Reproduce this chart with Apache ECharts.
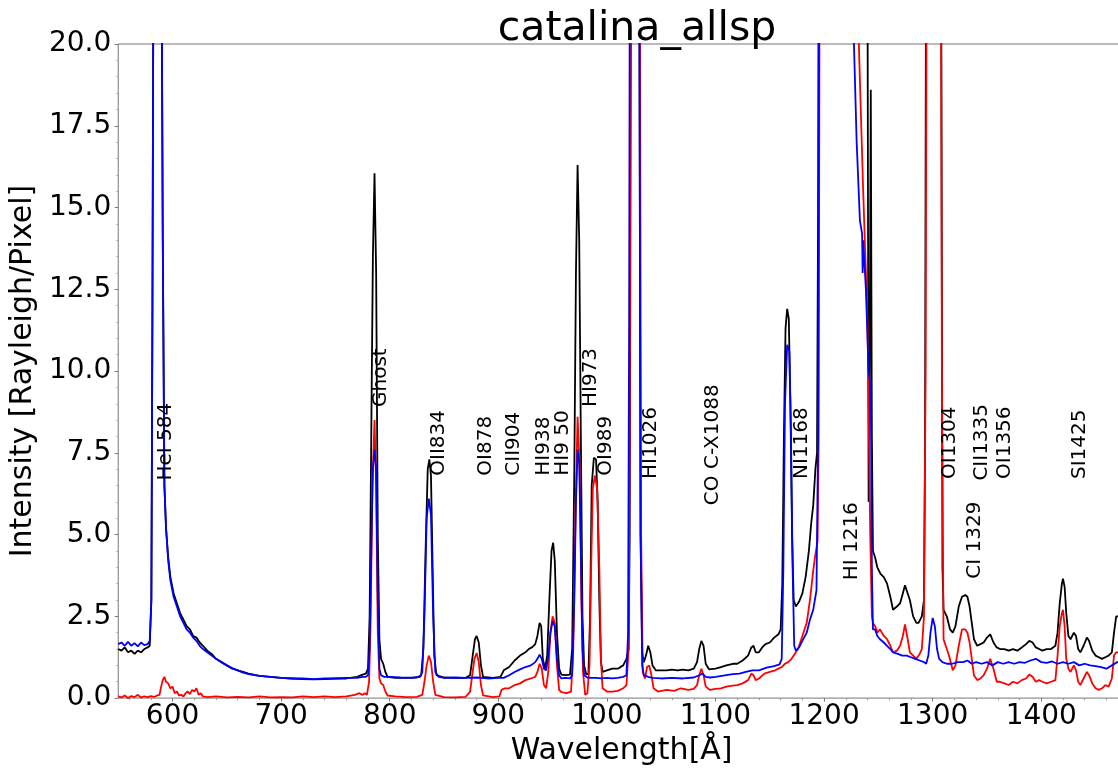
<!DOCTYPE html>
<html>
<head>
<meta charset="utf-8">
<script src="https://cdn.jsdelivr.net/npm/echarts@6/dist/echarts.min.js"></script>
<style>
html, body { margin: 0; padding: 0; background: #fff; overflow: hidden; }
/* the plot area runs past the right edge of the window, as in the original figure */
#chart { width: 1139px; height: 771px; }
</style>
</head>
<body>
<div id="chart"></div>
<script>
// spectra: [wavelength (A), intensity]
var blackSpec = [
    [550,1.50],[553,1.45],[556,1.55],[559,1.40],[562,1.45],[565,1.35],[568,1.45],[571,1.40],[574,1.50],[577,1.55],[579,1.60],
    [580.5,3.0],[581.5,12],[583,30],[586,40],[589,30],[591,14],[592.5,6.5],[594,5.2],[596,4.3],[598,3.7],[601,3.2],[604,2.9],
    [607,2.6],[610,2.4],[613,2.2],[616,2.1],[619,1.9],[622,1.85],[625,1.7],[628,1.6],[632,1.45],[636,1.35],[640,1.2],[645,1.1],
    [650,1.0],[655,0.9],[660,0.85],[665,0.8],[670,0.75],[680,0.68],[690,0.65],[700,0.62],[710,0.6],[720,0.58],[730,0.57],
    [740,0.58],[750,0.6],[760,0.6],[770,0.65],[775,0.72],[778,0.75],[780,0.9],[781.5,2.5],[783,8],[784.5,13.5],[786,16.05],
    [787.5,13],[789,5],[790.5,1.8],[792,1.2],[794,1.05],[796,0.8],[798,0.65],[805,0.62],[815,0.62],[825,0.63],[829,0.7],
    [831,1.5],[833,4.5],[835,7.0],[836.5,7.3],[838,6.8],[839.5,4.0],[841,1.3],[843,0.7],[850,0.63],[860,0.62],[870,0.62],
    [874,0.7],[876,1.2],[878.5,1.8],[880,1.9],[882,1.7],[884,1.0],[886,0.65],[895,0.62],[902,0.65],[905,0.85],[910,0.95],
    [915,1.15],[920,1.3],[925,1.4],[928,1.5],[931,1.55],[934,1.65],[936,1.9],[938,2.3],[939.5,2.2],[941,1.2],[943,0.9],
    [945,1.3],[947,3.0],[949,4.5],[950.5,4.75],[952,4.2],[954,2.0],[956,0.9],[958,0.72],[962,0.7],[966,0.72],[968,1.5],
    [970,7],[971.5,13],[973,16.3],[974.5,14],[976,8],[977.5,2.5],[979,1.0],[981,0.72],[983,0.75],[984.5,2.5],[986,6.5],
    [988,7.35],[990,7.3],[991.5,6],[993,3],[994.5,1.1],[996,0.8],[1000,0.85],[1005,0.9],[1010,0.9],[1015,1.0],[1018,1.2],
    [1020,1.5],[1021,5],[1022,20],[1023,40],[1026,50],[1029,40],[1030,20],[1031,5],[1032.5,1.4],[1034,1.1],[1036,1.3],
    [1038,1.6],[1040,1.4],[1042,1.0],[1045,0.85],[1050,0.85],[1055,0.85],[1060,0.87],[1065,0.85],[1070,0.87],[1075,0.85],
    [1080,0.9],[1083,1.1],[1085,1.5],[1087,1.75],[1089,1.6],[1091,1.05],[1094,0.88],[1100,0.9],[1105,0.95],[1110,1.0],
    [1116,1.05],[1120,1.05],[1125,1.15],[1130,1.3],[1133,1.55],[1135,1.6],[1137,1.4],[1140,1.4],[1143,1.55],[1146,1.65],
    [1150,1.7],[1154,1.85],[1158,1.95],[1160,2.1],[1161.5,3.5],[1163,8],[1164.5,11.3],[1166,11.9],[1167.5,11.6],[1169,9],
    [1170.5,5],[1172,3.0],[1174,2.8],[1177,2.95],[1180,3.2],[1183,3.7],[1186,4.5],[1188,5.3],[1190,5.9],[1192,7.0],
    [1193.5,7.5],[1194.5,15],[1195.5,30],[1200,50],[1216,80],[1230,50],[1236,30],[1238,25],[1240,22],[1241,6],[1242,10],
    [1243,18.6],[1244,8],[1245,4.5],[1247,4.3],[1249,4.0],[1252,3.8],[1255,3.7],[1258,3.5],[1261,3.1],[1263.5,2.7],
    [1267,2.8],[1270,2.9],[1272.5,3.2],[1274.5,3.45],[1277,3.2],[1279,3.0],[1282,2.5],[1285,2.3],[1287,2.3],[1290,2.5],
    [1292,3.0],[1293,8],[1294,25],[1296,45],[1301,60],[1306,45],[1308,20],[1309,4],[1310,2.7],[1313,2.5],[1316,2.1],
    [1318.5,2.0],[1321,2.2],[1324,2.8],[1327,3.1],[1330,3.15],[1332,3.1],[1334,2.8],[1336,2.3],[1338,1.8],[1341,1.6],
    [1344,1.65],[1347,1.7],[1350,1.85],[1353,1.95],[1356,1.7],[1359,1.55],[1362,1.5],[1366,1.5],[1370,1.45],[1374,1.5],
    [1378,1.45],[1382,1.55],[1386,1.65],[1389,1.75],[1392,1.7],[1395,1.55],[1398,1.5],[1401,1.45],[1405,1.5],[1409,1.5],
    [1413,1.6],[1415,2.0],[1417,2.9],[1419,3.5],[1420,3.65],[1421.5,3.4],[1423,2.6],[1425,1.9],[1427,1.8],[1430,2.0],
    [1432,1.9],[1434,1.5],[1436,1.4],[1439,1.6],[1442,1.85],[1444,1.75],[1447,1.45],[1450,1.3],[1453,1.25],[1456,1.2],
    [1459,1.25],[1462,1.3],[1465,1.4],[1467,2.0],[1469,2.5],[1471,2.5],[1475,2.6]
];

var redSpec = [
    [550,0.05],[553,0.02],[556,0.08],[559,0.0],[562,0.06],[565,0.03],[568,0.1],[571,0.02],[574,0.05],[577,0.03],[580,0.06],
    [583,0.04],[586,0.08],[588,0.1],[589.5,0.35],[591,0.55],[592.5,0.65],[594,0.5],[596,0.45],[598,0.3],[600,0.35],[602,0.15],
    [604,0.2],[606,0.08],[608,0.1],[610,0.05],[612,0.15],[614,0.2],[616,0.12],[618,0.25],[620,0.2],[622,0.3],[624,0.1],
    [626,0.15],[628,0.05],[632,0.03],[640,0.05],[650,0.02],[660,0.04],[670,0.02],[680,0.05],[690,0.02],[700,0.03],[710,0.02],
    [720,0.05],[730,0.03],[740,0.05],[750,0.03],[760,0.05],[768,0.1],[772,0.15],[775,0.1],[777,0.15],[779,0.1],[781,0.5],
    [782.5,2.5],[784,6.5],[786,8.5],[787.5,6.5],[789,2.0],[790.5,0.6],[792,0.45],[794,0.4],[796,0.2],[798,0.08],[805,0.05],
    [815,0.03],[825,0.04],[830,0.1],[832,0.5],[834,1.0],[836,1.3],[838,1.1],[840,0.5],[842,0.1],[850,0.03],[860,0.02],
    [870,0.04],[874,0.2],[876,0.7],[878,1.2],[880,1.38],[882,1.1],[884,0.4],[886,0.08],[895,0.03],[901,0.05],[903,0.25],
    [906,0.3],[910,0.3],[915,0.4],[920,0.45],[925,0.55],[930,0.6],[934,0.65],[936,0.8],[938,1.05],[940,0.9],[942,0.4],
    [944,0.3],[946,0.8],[948,2.0],[950,2.5],[952,2.3],[954,1.0],[956,0.25],[958,0.18],[963,0.15],[967,0.2],[969,1.5],
    [971,5.5],[973,8.6],[975,7],[976.5,3],[978,0.8],[980,0.1],[982,0.15],[984,1.0],[985.5,4],[987,6.4],[989,6.8],[991,6.4],
    [993,4],[994.5,1.2],[996,0.3],[1000,0.2],[1005,0.2],[1010,0.22],[1015,0.3],[1018,0.4],[1020,1.5],[1021,8],[1022,25],
    [1023,45],[1026,55],[1029,45],[1030.5,20],[1031.5,5],[1033,0.8],[1035,0.6],[1037,0.95],[1039,1.0],[1041,0.7],[1043,0.3],
    [1047,0.2],[1055,0.25],[1062,0.22],[1068,0.3],[1075,0.25],[1080,0.28],[1083,0.4],[1085,0.7],[1087,0.9],[1089,0.7],
    [1091,0.35],[1095,0.25],[1100,0.28],[1105,0.3],[1110,0.35],[1116,0.38],[1120,0.4],[1125,0.45],[1130,0.55],[1133,0.75],
    [1135,0.7],[1137,0.55],[1140,0.6],[1145,0.75],[1150,0.8],[1155,0.85],[1158,0.9],[1161,0.95],[1164,1.05],[1167,1.1],
    [1170,1.2],[1173,1.35],[1176,1.5],[1180,1.9],[1184,2.3],[1187,3.0],[1190,3.9],[1192,4.4],[1194,4.8],[1195,8],[1196,25],
    [1200,50],[1225,60],[1230,30],[1232,20],[1236,15.5],[1240,11.5],[1242.5,5],[1244,2.5],[1245,2.3],[1247,2.2],[1249,2.0],
    [1251.5,2.1],[1255,1.9],[1258,1.8],[1261,1.6],[1263.5,1.4],[1267,1.45],[1270,1.6],[1272.5,1.9],[1274.5,2.25],[1277,1.8],
    [1279,1.4],[1282,1.3],[1285,1.2],[1288,1.35],[1290,1.5],[1292,2.5],[1293.5,10],[1295,30],[1301,60],[1307,30],[1308.5,10],
    [1310,1.8],[1312,1.6],[1315,1.3],[1318.5,0.85],[1321,1.0],[1324,1.6],[1327,2.1],[1330,2.1],[1332,2.0],[1334,1.7],
    [1336,1.2],[1338,0.7],[1341,0.55],[1344,0.6],[1347,0.7],[1350,0.9],[1353,1.2],[1356,0.9],[1359,0.5],[1362,0.5],
    [1366,0.45],[1370,0.4],[1374,0.5],[1378,0.45],[1382,0.55],[1386,0.6],[1389,0.72],[1392,0.65],[1395,0.5],[1398,0.55],
    [1401,0.5],[1405,0.45],[1409,0.5],[1413,0.55],[1415,1.3],[1417,2.2],[1419,2.6],[1420,2.7],[1421.5,2.2],[1423,1.2],
    [1425,0.9],[1427,0.8],[1430,1.0],[1432,0.85],[1434,0.5],[1436,0.4],[1439,0.6],[1442,0.8],[1444,0.7],[1447,0.45],
    [1450,0.3],[1453,0.25],[1456,0.3],[1459,0.4],[1462,0.35],[1465,0.6],[1467,1.3],[1469,1.4],[1471,1.4],[1475,1.5]
];

var blueSpec = [
    [550,1.65],[553,1.7],[556,1.6],[559,1.72],[562,1.6],[565,1.68],[568,1.58],[571,1.7],[574,1.62],[577,1.65],[579,1.75],
    [580.5,3.0],[581.5,12],[583,30],[586,40],[589,30],[591,14],[592.5,6.5],[594,5.2],[596,4.2],[598,3.6],[601,3.1],[604,2.8],
    [607,2.5],[610,2.3],[613,2.1],[616,2.0],[619,1.85],[622,1.75],[625,1.6],[628,1.5],[632,1.4],[636,1.3],[640,1.2],[645,1.1],
    [650,1.0],[655,0.92],[660,0.85],[665,0.78],[670,0.73],[680,0.68],[690,0.65],[700,0.62],[710,0.6],[720,0.6],[730,0.58],
    [740,0.6],[750,0.6],[760,0.62],[770,0.62],[775,0.65],[778,0.65],[780,0.7],[781.5,1.5],[783,4.5],[784.5,7.0],[786,7.6],
    [787.5,7.0],[789,3.0],[790.5,0.9],[792,0.7],[795,0.65],[800,0.65],[810,0.63],[820,0.62],[828,0.65],[830,0.8],[832,2.5],
    [834,5.5],[836,6.1],[838,5.6],[840,2.5],[842,0.8],[845,0.65],[850,0.62],[860,0.63],[870,0.62],[880,0.63],[890,0.6],
    [900,0.62],[905,0.62],[910,0.7],[915,0.8],[920,0.88],[925,0.95],[930,1.0],[934,1.1],[936,1.2],[938,1.33],[940,1.2],
    [942,0.9],[944,0.85],[946,1.3],[948,2.0],[950,2.35],[952,2.2],[954,1.2],[956,0.7],[958,0.6],[962,0.62],[966,0.6],
    [968,0.7],[970,3.0],[971.5,6.0],[973,7.6],[974.5,7.2],[976,4.5],[977.5,1.5],[979,0.7],[982,0.63],[985,0.62],[990,0.62],
    [995,0.6],[1000,0.62],[1005,0.6],[1010,0.62],[1015,0.65],[1018,0.7],[1019.5,2],[1020.5,12],[1021.5,30],[1023,45],
    [1026,55],[1029,45],[1030,20],[1031,5],[1032.5,1.0],[1034,0.7],[1038,0.65],[1042,0.62],[1050,0.6],[1060,0.62],[1070,0.6],
    [1080,0.63],[1085,0.7],[1088,0.75],[1091,0.65],[1095,0.63],[1100,0.65],[1110,0.7],[1116,0.73],[1122,0.75],[1128,0.8],
    [1134,0.85],[1140,0.85],[1147,0.93],[1154,0.98],[1159,1.03],[1161,1.2],[1162.5,4],[1164,9],[1166,10.8],[1168,10.6],
    [1169.5,8],[1171,4],[1172.5,1.6],[1174,1.45],[1177,1.55],[1180,1.75],[1184,2.0],[1187,2.4],[1190,2.7],[1193,3.3],
    [1194.5,8],[1195.5,25],[1200,50],[1215,80],[1225,30],[1227.5,20],[1230,17],[1233,14.6],[1235,14.2],[1235.5,13.0],
    [1236,14.0],[1238.5,12.5],[1241,10],[1243,9.5],[1244,4],[1245,2.1],[1247,2.1],[1249,1.9],[1251.5,1.8],[1255,1.7],
    [1258,1.6],[1261,1.5],[1263.5,1.4],[1268,1.35],[1272,1.3],[1276,1.3],[1280,1.25],[1284,1.2],[1288,1.15],[1292,1.1],
    [1294,1.05],[1296,1.3],[1298,2.0],[1300,2.45],[1302,2.2],[1304,1.5],[1306,1.2],[1309,1.1],[1313,1.05],[1318,1.05],
    [1323,1.1],[1328,1.1],[1332,1.15],[1336,1.05],[1340,1.1],[1345,1.05],[1350,1.1],[1355,1.0],[1360,1.1],[1365,1.05],
    [1370,1.1],[1375,1.05],[1380,1.1],[1385,1.08],[1390,1.15],[1395,1.2],[1400,1.1],[1405,1.08],[1410,1.12],[1415,1.05],
    [1420,1.1],[1425,1.05],[1430,1.1],[1435,1.0],[1440,1.05],[1445,1.0],[1450,0.98],[1455,0.95],[1460,0.9],[1465,1.0],
    [1470,1.1],[1475,1.1]
];

// emission line annotations
var lineNames = ['HeI 584', 'Ghost', 'OII834', 'OI878', 'CII904', 'HI938', 'HI9 50', 'HI973', 'OI989', 'HI1026',
    'CO C-X1088', 'NI1168', 'HI 1216', 'OI1304', 'CI 1329', 'CII1335', 'OI1356', 'SI1425'];
var lineWave = [585, 782.6, 836, 879, 905, 932.5, 950, 975.7, 989.5, 1031, 1088, 1170.7, 1216.7, 1306.8, 1329.8, 1336, 1357, 1426];
var lineLevel = [6.65, 8.9, 6.8, 6.8, 6.8, 6.8, 6.8, 8.9, 6.8, 6.7, 5.9, 6.7, 3.6, 6.7, 3.65, 6.65, 6.7, 6.7];

var xTickLabels = [600, 700, 800, 900, 1000, 1100, 1200, 1300, 1400];
var xMinorTicks = [560, 580, 620, 640, 660, 680, 720, 740, 760, 780, 820, 840, 860, 880, 920, 940, 960, 980,
    1020, 1040, 1060, 1080, 1120, 1140, 1160, 1180, 1220, 1240, 1260, 1280, 1320, 1340, 1360, 1380, 1420, 1440, 1460, 1480];

var myChart = echarts.init(document.getElementById('chart'));

var fontName = 'DejaVu Sans';
var xMin = 550, xMax = 1490;

var option = {
    animation: false,
    backgroundColor: '#fff',
    title: {
        text: 'catalina_allsp',
        left: 632,
        top: 4,
        textAlign: 'center',
        textStyle: { fontFamily: fontName, fontSize: 41, fontWeight: 'normal', color: '#000' }
    },
    grid: {
        left: 117, top: 44, right: 0, bottom: 65,
        show: true, borderColor: '#777', borderWidth: 1
    },
    xAxis: [{
        type: 'value',
        min: xMin, max: xMax,
        name: 'Wavelength[Å]',
        nameLocation: 'middle',
        nameGap: 34,
        nameTextStyle: { fontFamily: fontName, fontSize: 30, color: '#000', padding: [0, 14, 0, 0] },
        axisLine: { show: false },
        splitLine: { show: false },
        axisTick: { show: true, customValues: xTickLabels, length: 3.5, lineStyle: { color: '#777' } },
        axisLabel: {
            customValues: xTickLabels, fontFamily: fontName, fontSize: 28, color: '#000', margin: 5,
            formatter: function (v) { return String(v); }
        }
    }, {
        type: 'value',
        min: xMin, max: xMax,
        position: 'bottom',
        axisLine: { show: false },
        splitLine: { show: false },
        axisLabel: { show: false },
        axisTick: { show: true, customValues: xMinorTicks, length: 2, lineStyle: { color: '#999' } }
    }],
    yAxis: {
        type: 'value',
        min: 0, max: 20, interval: 2.5,
        name: 'Intensity [Rayleigh/Pixel]',
        nameLocation: 'middle',
        nameGap: 72,
        nameTextStyle: { fontFamily: fontName, fontSize: 30, color: '#000' },
        axisLine: { show: false },
        splitLine: { show: false },
        axisTick: { show: true, length: 3.5, lineStyle: { color: '#777' } },
        minorTick: { show: true, splitNumber: 5, length: 2, lineStyle: { color: '#aaa' } },
        axisLabel: {
            fontFamily: fontName, fontSize: 28, color: '#000', margin: 7,
            formatter: function (v) { return v.toFixed(1); }
        }
    },
    series: [{
        name: 'black', type: 'line', data: blackSpec, showSymbol: false,
        lineStyle: { color: '#000', width: 1.8 }, itemStyle: { color: '#000' }
    }, {
        name: 'red', type: 'line', data: redSpec, showSymbol: false,
        lineStyle: { color: '#ff0000', width: 1.8 }, itemStyle: { color: '#ff0000' }
    }, {
        name: 'blue', type: 'line', data: blueSpec, showSymbol: false,
        lineStyle: { color: '#0000ff', width: 1.8 }, itemStyle: { color: '#0000ff' }
    }, {
        name: 'lines', type: 'scatter', symbolSize: 0, silent: true, z: 5,
        itemStyle: { opacity: 1 },
        data: lineNames.map(function (n, i) { return { name: n, value: [lineWave[i], lineLevel[i]] }; }),
        label: {
            show: true, position: [0, 0], rotate: 90, align: 'left', verticalAlign: 'top',
            fontFamily: fontName, fontSize: 20, color: '#000', opacity: 1, textBorderWidth: 0,
            formatter: function (p) { return p.name; }
        }
    }]
};

myChart.setOption(option);
</script>
</body>
</html>
